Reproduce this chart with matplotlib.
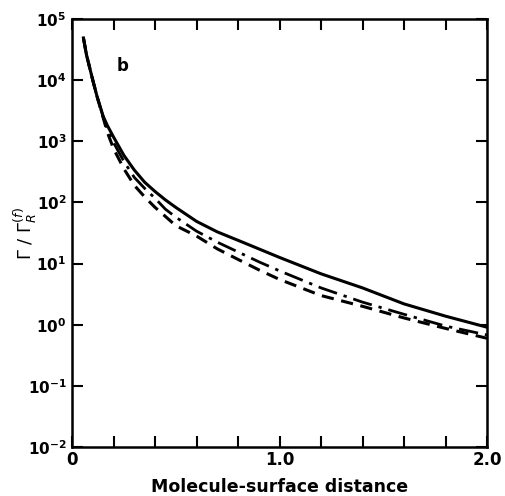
import matplotlib
matplotlib.use("Agg")
import matplotlib.pyplot as plt

# distances
x = [0.055, 0.07, 0.1, 0.12, 0.15, 0.17, 0.2, 0.25, 0.3, 0.35, 0.4, 0.45, 0.5,
     0.6, 0.7, 0.8, 0.9, 1.0, 1.2, 1.4, 1.6, 1.8, 2.0]

solid = [49000, 25700, 10000, 5500, 2570, 1820, 1175, 589, 339, 214, 151, 110, 83,
         49, 33, 24, 17.4, 12.6, 6.8, 4.0, 2.19, 1.38, 0.91]
dashdot = [49000, 25700, 10000, 5500, 2510, 1580, 955, 468, 257, 170, 117, 77.6, 57.5,
           33.9, 22.4, 15.5, 10.7, 7.6, 4.0, 2.34, 1.48, 0.95, 0.68]
dashed = [49000, 25700, 10000, 5500, 2450, 1410, 759, 355, 191, 123, 83, 59, 41.7,
          28.2, 17.4, 11.7, 7.9, 5.5, 3.0, 2.0, 1.29, 0.87, 0.60]

xticks = [0, 0.2, 0.4, 0.6, 0.8, 1.0, 1.2, 1.4, 1.6, 1.8, 2.0]
xticklabels = ['0', '', '', '', '', '1.0', '', '', '', '', '2.0']
yticks = [1e-2, 1e-1, 1e0, 1e1, 1e2, 1e3, 1e4, 1e5]
yticklabels = [r'$\mathbf{10^{-2}}$', r'$\mathbf{10^{-1}}$', r'$\mathbf{10^{0}}$', r'$\mathbf{10^{1}}$',
               r'$\mathbf{10^{2}}$', r'$\mathbf{10^{3}}$', r'$\mathbf{10^{4}}$', r'$\mathbf{10^{5}}$']

fig = plt.figure(figsize=(5.05, 4.96), dpi=100)
ax = fig.add_axes([0.1426, 0.0988, 0.8218, 0.8629])

ax.plot(x, dashed, color='black', lw=2.2, linestyle=(0, (4, 2.5)))
ax.plot(x, dashdot, color='black', lw=2.0, linestyle=(0, (7, 2.5, 1.2, 2.5)))
ax.plot(x, solid, color='black', lw=2.2)

ax.set_yscale('log')
ax.set_xlim(0, 2.0)
ax.set_ylim(1e-2, 1e5)
ax.set_xticks(xticks)
ax.set_xticklabels(xticklabels, fontsize=12, fontweight='bold')
ax.set_yticks(yticks)
ax.set_yticklabels(yticklabels, fontsize=11)
ax.minorticks_off()
ax.tick_params(direction='in', length=8, width=1.5, top=True, right=True)
ax.tick_params(axis='x', pad=3)
ax.tick_params(axis='y', pad=4)
for s in ax.spines.values():
    s.set_linewidth(1.8)

ax.set_xlabel('Molecule-surface distance', fontsize=12.5, fontweight='bold')
ax.xaxis.set_label_coords(0.5, -0.072)
ax.set_ylabel(r'$\Gamma\ /\ \Gamma_R^{(f)}$', fontsize=13)
ax.yaxis.set_label_coords(-0.08, 0.5)
ax.text(0.246, 1.7e4, 'b', fontsize=12, fontweight='bold', ha='center', va='center')

plt.savefig('out.png', dpi=100)
